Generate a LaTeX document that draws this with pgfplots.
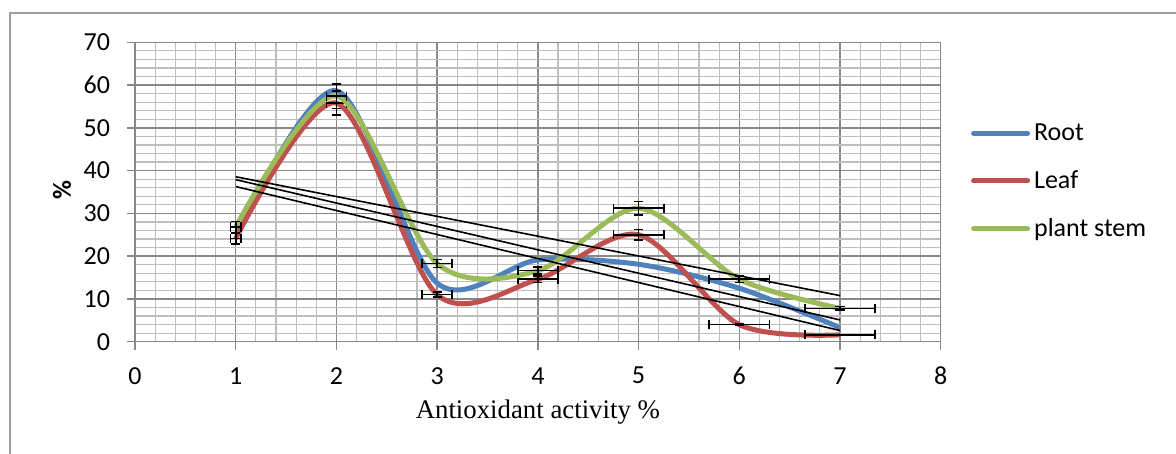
\documentclass[border=0pt]{standalone}
\usepackage{pgfplots}
\usepackage{pgfplotstable}
\pgfplotsset{compat=1.18}
\usepackage{fontspec}
\setmainfont{Carlito}
\newfontfamily\timesfont{Liberation Serif}
\definecolor{gridmajor}{HTML}{888888}
\definecolor{gridminor}{HTML}{BEBEBE}
\definecolor{rootc}{HTML}{4F81BD}
\definecolor{leafc}{HTML}{C0504D}
\definecolor{stemc}{HTML}{9BBB59}
\definecolor{framec}{HTML}{A0A0A0}

\pgfplotstableread{
x y
1 25.0
2 58.7
3 13.7
4 19.1
5 18.1
6 12.5
7 3.3
}\roottable

\pgfplotstableread{
x y ex ey
1 24.1 0.05 1.20
2 55.8 0.10 2.79
3 11.0 0.15 0.55
4 14.6 0.20 0.73
5 25.0 0.25 1.25
6 4.0 0.30 0.20
7 1.6 0.35 0.08
}\leaftable

\pgfplotstableread{
x y ex ey
1 26.8 0.05 1.34
2 57.4 0.10 2.87
3 18.3 0.15 0.92
4 16.6 0.20 0.83
5 31.2 0.25 1.56
6 14.6 0.30 0.73
7 7.8 0.35 0.39
}\stemtable

\begin{document}
\begin{tikzpicture}
\begin{axis}[
  scale only axis,
  width=402.85pt, height=149.7pt,
  xmin=0, xmax=8, ymin=0, ymax=70,
  xtick={0,1,...,8}, ytick={0,10,...,70},
  minor x tick num=4, minor y tick num=4,
  grid=both,
  major grid style={color=gridmajor, line width=0.7pt},
  minor grid style={color=gridminor, line width=0.6pt},
  axis line style={gridmajor, line width=0.7pt},
  tick align=outside, major tick length=4pt, minor tick length=0pt,
  tick style={gridmajor, line width=0.7pt},
  xtick pos=bottom, ytick pos=left,
  tick label style={font=\fontsize{13}{15}\selectfont, black},
  /pgf/number format/assume math mode=true,
  xticklabel style={anchor=center, yshift=-13pt},
  yticklabel style={anchor=east, xshift=-5pt},
  xlabel={\timesfont Antioxidant activity \%},
  xlabel style={at={(axis description cs:0.5,0)}, anchor=center, yshift=-35pt, font=\fontsize{13.4}{15}\selectfont},
  ylabel={\textbf{\%}},
  ylabel style={at={(axis description cs:0,0.507)}, anchor=center, yshift=36.5pt, font=\fontsize{13}{15}\selectfont},
  legend style={at={(axis description cs:1,0.535)}, anchor=west, xshift=15pt,
    draw=none, fill=none, inner sep=0pt, font=\fontsize{13}{15}\selectfont, row sep=9.6pt},
  legend cell align=left,
  legend image code/.code={\draw[#1, line cap=round] (0pt,0pt) -- (27pt,0pt);},
  clip=false,
]
\addplot[rootc, line width=2.5pt, smooth, tension=0.5] table[x=x, y=y] \roottable;
\addlegendentry{Root}
\addplot[leafc, line width=2.5pt, smooth, tension=0.5,
  error bars/.cd, x dir=both, x explicit, y dir=both, y explicit,
  error bar style={black, line width=0.8pt, line cap=butt},
  error mark options={rotate=90, black, mark size=2.3pt, line width=0.8pt}]
  table[x=x, y=y, x error=ex, y error=ey] \leaftable;
\addlegendentry{Leaf}
\addplot[stemc, line width=2.5pt, smooth, tension=0.5,
  error bars/.cd, x dir=both, x explicit, y dir=both, y explicit,
  error bar style={black, line width=0.8pt, line cap=butt},
  error mark options={rotate=90, black, mark size=2.3pt, line width=0.8pt}]
  table[x=x, y=y, x error=ex, y error=ey] \stemtable;
\addlegendentry{plant stem}
\addplot[black, line width=0.8pt, forget plot] table[x=x, y={create col/linear regression={y=y}}] \roottable;
\addplot[black, line width=0.8pt, forget plot] table[x=x, y={create col/linear regression={y=y}}] \leaftable;
\addplot[black, line width=0.8pt, forget plot] table[x=x, y={create col/linear regression={y=y}}] \stemtable;
\end{axis}
\path[use as bounding box] ([xshift=-67.5pt,yshift=-56.15pt]current axis.south west) rectangle ([xshift=117.65pt,yshift=21.15pt]current axis.north east);
\draw[framec, line width=0.8pt] ([xshift=-62.5pt,yshift=-56.15pt]current axis.south west) |- ([xshift=117.65pt,yshift=14.65pt]current axis.north east);
\end{tikzpicture}
\end{document}
